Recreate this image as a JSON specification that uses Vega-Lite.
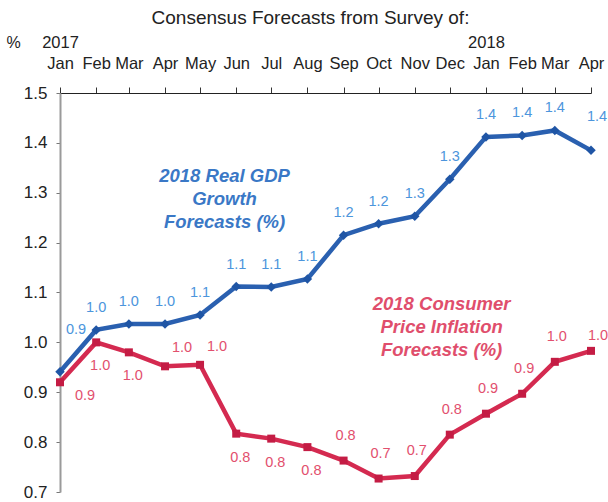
{
  "$schema": "https://vega.github.io/schema/vega-lite/v6.json",
  "width": 531,
  "height": 399,
  "autosize": {"type": "none"},
  "padding": {"left": 60, "top": 93, "right": 17, "bottom": 10},
  "config": {"view": {"stroke": null}, "font": "Liberation Sans"},
  "title": {"text": "Consensus Forecasts from Survey of:", "fontSize": 19, "fontWeight": "normal", "color": "#222222", "anchor": "middle", "offset": 6, "dx": -15},
  "datasets": {
    "series": [
      {"date": "2017-01-01T00:00:00", "series": "GDP", "value": 0.941},
      {"date": "2017-02-01T00:00:00", "series": "GDP", "value": 1.025},
      {"date": "2017-03-01T00:00:00", "series": "GDP", "value": 1.037},
      {"date": "2017-04-01T00:00:00", "series": "GDP", "value": 1.037},
      {"date": "2017-05-01T00:00:00", "series": "GDP", "value": 1.055},
      {"date": "2017-06-01T00:00:00", "series": "GDP", "value": 1.112},
      {"date": "2017-07-01T00:00:00", "series": "GDP", "value": 1.111},
      {"date": "2017-08-01T00:00:00", "series": "GDP", "value": 1.127},
      {"date": "2017-09-01T00:00:00", "series": "GDP", "value": 1.215},
      {"date": "2017-10-01T00:00:00", "series": "GDP", "value": 1.238},
      {"date": "2017-11-01T00:00:00", "series": "GDP", "value": 1.253},
      {"date": "2017-12-01T00:00:00", "series": "GDP", "value": 1.327},
      {"date": "2018-01-01T00:00:00", "series": "GDP", "value": 1.412},
      {"date": "2018-02-01T00:00:00", "series": "GDP", "value": 1.415},
      {"date": "2018-03-01T00:00:00", "series": "GDP", "value": 1.425},
      {"date": "2018-04-01T00:00:00", "series": "GDP", "value": 1.385},
      {"date": "2017-01-01T00:00:00", "series": "CPI", "value": 0.92},
      {"date": "2017-02-01T00:00:00", "series": "CPI", "value": 1.0},
      {"date": "2017-03-01T00:00:00", "series": "CPI", "value": 0.98},
      {"date": "2017-04-01T00:00:00", "series": "CPI", "value": 0.952},
      {"date": "2017-05-01T00:00:00", "series": "CPI", "value": 0.955},
      {"date": "2017-06-01T00:00:00", "series": "CPI", "value": 0.817},
      {"date": "2017-07-01T00:00:00", "series": "CPI", "value": 0.807},
      {"date": "2017-08-01T00:00:00", "series": "CPI", "value": 0.79},
      {"date": "2017-09-01T00:00:00", "series": "CPI", "value": 0.763},
      {"date": "2017-10-01T00:00:00", "series": "CPI", "value": 0.727},
      {"date": "2017-11-01T00:00:00", "series": "CPI", "value": 0.732},
      {"date": "2017-12-01T00:00:00", "series": "CPI", "value": 0.815},
      {"date": "2018-01-01T00:00:00", "series": "CPI", "value": 0.857},
      {"date": "2018-02-01T00:00:00", "series": "CPI", "value": 0.897},
      {"date": "2018-03-01T00:00:00", "series": "CPI", "value": 0.961},
      {"date": "2018-04-01T00:00:00", "series": "CPI", "value": 0.983}
    ],
    "notes": [
      {"date": "2017-05-22T00:00:00", "value": 1.333, "series": "GDP", "text": ["2018 Real GDP", "Growth", "Forecasts (%)"]},
      {"date": "2017-11-24T00:00:00", "value": 1.077, "series": "CPI", "text": ["2018 Consumer", "Price Inflation", "Forecasts (%)"]}
    ]
  },
  "encoding": {
    "x": {
      "field": "date",
      "type": "temporal",
      "scale": {"domain": [{"year": 2017, "month": 1, "date": 1}, {"year": 2018, "month": 4, "date": 1}], "nice": false},
      "axis": {
        "orient": "top",
        "title": null,
        "grid": false,
        "tickCount": {"interval": "month", "step": 1},
        "labelExpr": "[month(datum.value) == 0 ? timeFormat(datum.value, '%Y') : '', timeFormat(datum.value, '%b')]",
        "labelFontSize": 16.5,
        "labelColor": "#222222",
        "labelPadding": 37,
        "labelLineHeight": 21,
        "labelOverlap": false,
        "labelFlush": false,
        "tickSize": 6,
        "tickColor": "#333333",
        "domainColor": "#222222",
        "domainWidth": 1
      }
    },
    "y": {
      "field": "value",
      "type": "quantitative",
      "scale": {"domain": [0.7, 1.5], "nice": false, "zero": false},
      "axis": {
        "values": [0.7, 0.8, 0.9, 1.0, 1.1, 1.2, 1.3, 1.4, 1.5],
        "format": ".1f",
        "grid": false,
        "labelFontSize": 17,
        "labelColor": "#222222",
        "labelPadding": 9,
        "tickSize": 4,
        "tickColor": "#777777",
        "domainColor": "#9a9a9a",
        "domainWidth": 2,
        "title": "%",
        "titleAngle": 0,
        "titleX": -47,
        "titleY": -51,
        "titleFontSize": 16,
        "titleFontWeight": "normal",
        "titleColor": "#222222",
        "titleAlign": "center",
        "titleBaseline": "middle"
      }
    }
  },
  "layer": [
    {
      "data": {"name": "series"},
      "transform": [{"filter": "datum.series == 'GDP'"}],
      "mark": {"type": "line", "color": "#2a60b0", "strokeWidth": 4.5}
    },
    {
      "data": {"name": "series"},
      "transform": [{"filter": "datum.series == 'GDP'"}],
      "mark": {"type": "point", "shape": "diamond", "filled": true, "size": 90, "color": "#1f55a5", "opacity": 1}
    },
    {
      "data": {"name": "series"},
      "transform": [{"filter": "datum.series == 'CPI'"}],
      "mark": {"type": "line", "color": "#d42a50", "strokeWidth": 4.5}
    },
    {
      "data": {"name": "series"},
      "transform": [{"filter": "datum.series == 'CPI'"}],
      "mark": {"type": "point", "shape": "square", "filled": true, "size": 64, "color": "#c41c44", "opacity": 1}
    },
    {
      "data": {"name": "series"},
      "transform": [{"filter": "datum.series == 'GDP' && timeFormat(datum.date, '%Y-%m') != '2017-01' && timeFormat(datum.date, '%Y-%m') != '2018-04'"}],
      "mark": {"type": "text", "fontSize": 14.5, "color": "#4c95dc", "dy": -22},
      "encoding": {"text": {"field": "value", "type": "quantitative", "format": ".1f"}}
    },
    {
      "data": {"name": "series"},
      "transform": [{"filter": "datum.series == 'GDP' && timeFormat(datum.date, '%Y-%m') == '2018-04'"}],
      "mark": {"type": "text", "fontSize": 14.5, "color": "#4c95dc", "dx": 6, "dy": -33},
      "encoding": {"text": {"field": "value", "type": "quantitative", "format": ".1f"}}
    },
    {
      "data": {"name": "series"},
      "transform": [{"filter": "datum.series == 'GDP' && timeFormat(datum.date, '%Y-%m') == '2017-01'"}],
      "mark": {"type": "text", "fontSize": 14.5, "color": "#4c95dc", "dx": 16, "dy": -42},
      "encoding": {"text": {"field": "value", "type": "quantitative", "format": ".1f"}}
    },
    {
      "data": {"name": "series"},
      "transform": [{"filter": "datum.series == 'CPI' && indexof(['2017-02','2017-03','2017-06','2017-07','2017-08'], timeFormat(datum.date, '%Y-%m')) >= 0"}],
      "mark": {"type": "text", "fontSize": 14.5, "color": "#e2506e", "dx": 4, "dy": 24},
      "encoding": {"text": {"field": "value", "type": "quantitative", "format": ".1f"}}
    },
    {
      "data": {"name": "series"},
      "transform": [{"filter": "datum.series == 'CPI' && timeFormat(datum.date, '%Y-%m') == '2017-01'"}],
      "mark": {"type": "text", "fontSize": 14.5, "color": "#e2506e", "dx": 25, "dy": 14},
      "encoding": {"text": {"field": "value", "type": "quantitative", "format": ".1f"}}
    },
    {
      "data": {"name": "series"},
      "transform": [{"filter": "datum.series == 'CPI' && indexof(['2017-04','2017-05'], timeFormat(datum.date, '%Y-%m')) >= 0"}],
      "mark": {"type": "text", "fontSize": 14.5, "color": "#e2506e", "dx": 17, "dy": -18},
      "encoding": {"text": {"field": "value", "type": "quantitative", "format": ".1f"}}
    },
    {
      "data": {"name": "series"},
      "transform": [{"filter": "datum.series == 'CPI' && datum.date >= datetime(2017, 8, 1) && timeFormat(datum.date, '%Y-%m') != '2018-04'"}],
      "mark": {"type": "text", "fontSize": 14.5, "color": "#e2506e", "dx": 2, "dy": -25},
      "encoding": {"text": {"field": "value", "type": "quantitative", "format": ".1f"}}
    },
    {
      "data": {"name": "series"},
      "transform": [{"filter": "datum.series == 'CPI' && timeFormat(datum.date, '%Y-%m') == '2018-04'"}],
      "mark": {"type": "text", "fontSize": 14.5, "color": "#e2506e", "dx": 7, "dy": -15},
      "encoding": {"text": {"field": "value", "type": "quantitative", "format": ".1f"}}
    },
    {
      "data": {"name": "notes"},
      "transform": [{"filter": "datum.series == 'GDP'"}],
      "mark": {"type": "text", "fontSize": 18.5, "fontWeight": "bold", "fontStyle": "italic", "color": "#3a78c6", "lineHeight": 23, "baseline": "middle", "align": "center"},
      "encoding": {"text": {"field": "text", "type": "nominal"}}
    },
    {
      "data": {"name": "notes"},
      "transform": [{"filter": "datum.series == 'CPI'"}],
      "mark": {"type": "text", "fontSize": 18.5, "fontWeight": "bold", "fontStyle": "italic", "color": "#e04e6c", "lineHeight": 23, "baseline": "middle", "align": "center"},
      "encoding": {"text": {"field": "text", "type": "nominal"}}
    }
  ]
}
